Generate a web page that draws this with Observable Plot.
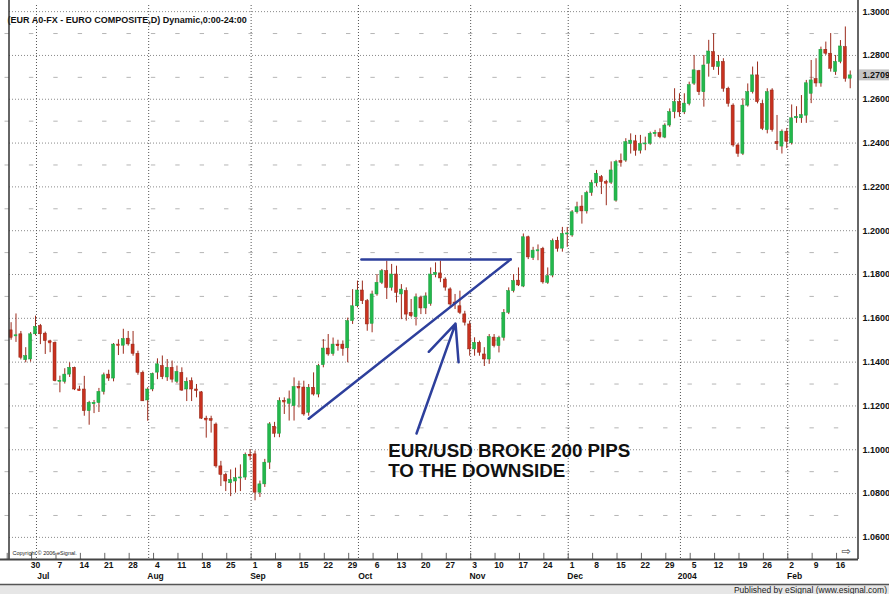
<!DOCTYPE html>
<html><head><meta charset="utf-8">
<script src="https://cdn.jsdelivr.net/npm/d3@7"></script>
<script src="https://cdn.jsdelivr.net/npm/@observablehq/plot@0.6"></script>
<style>body{margin:0;background:#fff} svg{display:block}</style>
</head><body><div id="chart"></div>
<script>
const startDate = "2003-06-23";
const titleText = "(EUR A0-FX - EURO COMPOSITE,D) Dynamic,0:00-24:00";
const opens = [1.1545,1.1520,1.1527,1.1409,1.1412,1.1527,1.1565,1.1530,1.1495,1.1488,
1.1311,1.1310,1.1343,1.1374,1.1275,1.1275,1.1176,1.1210,1.1213,1.1264,
1.1343,1.1325,1.1480,1.1475,1.1507,1.1480,1.1438,1.1351,1.1225,1.1275,
1.1352,1.1382,1.1330,1.1374,1.1310,1.1351,1.1275,1.1313,1.1275,1.1262,
1.1142,1.1140,1.1115,1.0924,1.0885,1.0847,1.0855,1.0870,1.0873,1.0977,
1.0979,1.0804,1.0842,1.0941,1.1105,1.1073,1.1222,1.1210,1.1199,1.1286,
1.1284,1.1169,1.1283,1.1252,1.1386,1.1462,1.1437,1.1480,1.1480,1.1463,
1.1587,1.1655,1.1727,1.1678,1.1575,1.1709,1.1762,1.1815,1.1739,1.1800,
1.1709,1.1724,1.1625,1.1605,1.1693,1.1645,1.1665,1.1797,1.1805,1.1777,
1.1732,1.1672,1.1655,1.1618,1.1572,1.1458,1.1488,1.1435,1.1412,1.1512,
1.1473,1.1511,1.1625,1.1724,1.1772,1.1745,1.1970,1.1875,1.1909,1.1917,
1.1762,1.1795,1.1954,1.1918,1.1985,1.1978,1.2084,1.2110,1.2088,1.2172,
1.2216,1.2244,1.2222,1.2219,1.2137,1.2318,1.2320,1.2395,1.2408,1.2365,
1.2395,1.2397,1.2442,1.2446,1.2425,1.2480,1.2541,1.2587,1.2540,1.2578,
1.2671,1.2728,1.2632,1.2762,1.2815,1.2747,1.2770,1.2648,1.2571,1.2389,
1.2351,1.2571,1.2632,1.2709,1.2578,1.2459,1.2640,1.2405,1.2384,1.2452,
1.2399,1.2513,1.2513,1.2525,1.2625,1.2692,1.2672,1.2826,1.2808,1.2724,
1.2770,1.2838,1.2694];
const highs = [1.1580,1.1620,1.1540,1.1466,1.1535,1.1610,1.1572,1.1537,1.1500,1.1492,
1.1336,1.1370,1.1397,1.1377,1.1290,1.1335,1.1221,1.1225,1.1280,1.1350,
1.1363,1.1485,1.1502,1.1550,1.1540,1.1540,1.1450,1.1359,1.1283,1.1350,
1.1415,1.1428,1.1412,1.1405,1.1382,1.1374,1.1328,1.1328,1.1298,1.1266,
1.1153,1.1153,1.1122,1.0947,1.0893,1.0908,1.0916,1.0931,1.0985,1.1000,
1.0994,1.0857,1.0956,1.1124,1.1125,1.1237,1.1237,1.1268,1.1328,1.1313,
1.1313,1.1298,1.1351,1.1390,1.1503,1.1526,1.1510,1.1500,1.1497,1.1601,
1.1731,1.1770,1.1770,1.1686,1.1724,1.1800,1.1823,1.1861,1.1846,1.1838,
1.1754,1.1739,1.1686,1.1711,1.1701,1.1716,1.1830,1.1853,1.1861,1.1785,
1.1739,1.1709,1.1724,1.1632,1.1587,1.1511,1.1496,1.1466,1.1526,1.1526,
1.1518,1.1640,1.1739,1.1800,1.1830,1.1985,1.1975,1.1924,1.1935,1.1924,
1.1830,1.1962,1.1970,1.2015,1.2015,1.2092,1.2130,1.2160,1.2180,1.2230,
1.2275,1.2252,1.2230,1.2314,1.2321,1.2350,1.2420,1.2442,1.2435,1.2435,
1.2427,1.2450,1.2458,1.2465,1.2488,1.2556,1.2648,1.2625,1.2625,1.2678,
1.2800,1.2732,1.2800,1.2869,1.2899,1.2800,1.2785,1.2655,1.2579,1.2397,
1.2602,1.2670,1.2747,1.2770,1.2594,1.2648,1.2648,1.2526,1.2460,1.2467,
1.2574,1.2566,1.2617,1.2686,1.2777,1.2785,1.2838,1.2861,1.2900,1.2800,
1.2868,1.2930,1.2729];
const lows = [1.1500,1.1490,1.1410,1.1397,1.1400,1.1520,1.1480,1.1435,1.1443,1.1310,
1.1260,1.1300,1.1330,1.1270,1.1268,1.1153,1.1112,1.1165,1.1170,1.1250,
1.1312,1.1310,1.1430,1.1436,1.1473,1.1427,1.1340,1.1221,1.1130,1.1265,
1.1320,1.1320,1.1312,1.1305,1.1302,1.1267,1.1220,1.1220,1.1237,1.1138,
1.1053,1.1076,1.0916,1.0832,1.0809,1.0786,1.0802,1.0809,1.0860,1.0950,
1.0767,1.0782,1.0828,1.0910,1.1055,1.1055,1.1161,1.1131,1.1131,1.1191,
1.1153,1.1153,1.1245,1.1237,1.1374,1.1427,1.1427,1.1450,1.1427,1.1397,
1.1572,1.1648,1.1663,1.1541,1.1534,1.1701,1.1754,1.1686,1.1724,1.1670,
1.1594,1.1587,1.1602,1.1565,1.1617,1.1617,1.1655,1.1785,1.1763,1.1724,
1.1655,1.1640,1.1617,1.1565,1.1427,1.1427,1.1427,1.1380,1.1390,1.1465,
1.1442,1.1496,1.1617,1.1716,1.1745,1.1740,1.1868,1.1864,1.1863,1.1756,
1.1755,1.1785,1.1902,1.1902,1.1924,1.1970,1.2076,1.2030,1.2076,1.2157,
1.2200,1.2165,1.2114,1.2211,1.2130,1.2290,1.2312,1.2350,1.2340,1.2350,
1.2365,1.2390,1.2427,1.2420,1.2420,1.2472,1.2511,1.2518,1.2530,1.2570,
1.2663,1.2617,1.2564,1.2701,1.2732,1.2709,1.2632,1.2564,1.2381,1.2335,
1.2343,1.2564,1.2624,1.2579,1.2457,1.2442,1.2450,1.2366,1.2350,1.2375,
1.2391,1.2490,1.2490,1.2490,1.2580,1.2655,1.2655,1.2800,1.2724,1.2709,
1.2762,1.2678,1.2648];
const closes = [1.1511,1.1522,1.1420,1.1427,1.1527,1.1560,1.1527,1.1496,1.1490,1.1313,
1.1315,1.1343,1.1374,1.1275,1.1272,1.1176,1.1214,1.1213,1.1264,1.1340,
1.1325,1.1480,1.1478,1.1505,1.1481,1.1438,1.1351,1.1221,1.1275,1.1346,
1.1390,1.1331,1.1374,1.1320,1.1355,1.1270,1.1310,1.1275,1.1268,1.1142,
1.1138,1.1132,1.0924,1.0885,1.0855,1.0862,1.0870,1.0873,1.0977,1.0974,
1.0804,1.0842,1.0941,1.1116,1.1073,1.1222,1.1220,1.1230,1.1286,1.1284,
1.1161,1.1283,1.1252,1.1382,1.1462,1.1435,1.1480,1.1477,1.1460,1.1587,
1.1655,1.1727,1.1678,1.1572,1.1709,1.1762,1.1815,1.1739,1.1800,1.1716,
1.1731,1.1617,1.1610,1.1696,1.1645,1.1700,1.1800,1.1808,1.1782,1.1740,
1.1663,1.1665,1.1625,1.1580,1.1458,1.1488,1.1443,1.1412,1.1514,1.1473,
1.1510,1.1625,1.1724,1.1770,1.1750,1.1970,1.1878,1.1909,1.1910,1.1764,
1.1792,1.1952,1.1917,1.1985,1.1987,1.2084,1.2107,1.2088,1.2172,1.2217,
1.2260,1.2222,1.2218,1.2275,1.2313,1.2310,1.2404,1.2411,1.2365,1.2395,
1.2398,1.2442,1.2446,1.2427,1.2480,1.2541,1.2587,1.2540,1.2580,1.2664,
1.2732,1.2632,1.2754,1.2818,1.2747,1.2770,1.2648,1.2579,1.2389,1.2351,
1.2571,1.2632,1.2709,1.2587,1.2465,1.2632,1.2459,1.2395,1.2452,1.2406,
1.2513,1.2520,1.2528,1.2673,1.2686,1.2672,1.2826,1.2808,1.2739,1.2770,
1.2841,1.2693,1.2709];
const dayLabels = ["30","7","14","21","28","4","11","18","25","1","8","15","22","29","6","13","20","27",
"3","10","17","24","1","8","15","22","29","5","12","19","26","2","9","16"];
const monthLabels = ["Jul","Aug","Sep","Oct","Nov","Dec","2004","Feb"];
const yTicks = [1.30,1.28,1.26,1.24,1.22,1.20,1.18,1.16,1.14,1.12,1.10,1.08,1.06];
const midLevels = [1.29,1.27,1.25,1.23,1.21,1.19,1.17,1.15,1.13,1.11,1.09,1.07,1.05];
const lastPrice = 1.2709;
const noteLines = ["EUR/USD BROKE 200 PIPS", "TO THE DOWNSIDE"];
const notePos = {i: 77.3, p: 1.0950};
const resistanceLine = [{i: 71.8, p: 1.1869}, {i: 102.4, p: 1.1869}];
const trendLine = [{i: 61.0, p: 1.1142}, {i: 102.4, p: 1.1869}];
const arrowPts = [{i1: 83.1, p1: 1.1074, i2: 91.1, p2: 1.1576}];
const copyrightText = "Copyright \u00a9 2006 eSignal.";
const publishedText = "Published by eSignal (www.esignal.com)";

// trading-day calendar (weekdays)
const dates = [];
{
  const d = new Date(startDate + "T12:00:00");
  while (dates.length < opens.length) {
    const wd = d.getDay();
    if (wd !== 0 && wd !== 6) dates.push(new Date(d));
    d.setDate(d.getDate() + 1);
  }
}
const bars = opens.map((o, i) => ({i, open: o, high: highs[i], low: lows[i], close: closes[i], up: closes[i] >= o}));
const mondayIdx = dates.map((d, i) => d.getDay() === 1 ? i : -1).filter(i => i >= 0);
const dayTicks = mondayIdx.slice(1).map((i, k) => ({i, label: dayLabels[k]})).filter(d => d.label);
const monthIdx = dates.map((d, i) => i > 0 && d.getMonth() !== dates[i - 1].getMonth() ? i : -1).filter(i => i >= 0);
const monthTicks = monthIdx.map((i, k) => ({i, label: monthLabels[k]}));
const gridOffset = -0.8;
const weekGrid = mondayIdx.map(i => i + gridOffset);
const dashes = weekGrid.flatMap(x => midLevels.map(p => ({x, p})));

const xDom = [-0.33, 173.7];
const yDom = [1.0499, 1.3028];
const GREEN = "#22b84c", RED = "#c8311f", WICK = "#9b2b1c";
const font = "'Liberation Sans', Arial, Helvetica, sans-serif";
const half = 0.31;

const chart = Plot.plot({
  width: 889, height: 594,
  marginTop: 5, marginRight: 31, marginBottom: 35, marginLeft: 9,
  x: {type: "linear", domain: xDom, axis: null},
  y: {domain: yDom, axis: null},
  style: {fontFamily: font, background: "white", overflow: "visible"},
  marks: [
    Plot.ruleY(yTicks.filter(p => p < yDom[1]), {y: d => d, stroke: "#8a8a8a", strokeDasharray: "1,2"}),
    Plot.ruleY(dashes, {y: "p", x1: d => d.x - 0.45, x2: d => d.x + 0.45, stroke: "#b5b5b5"}),
    Plot.ruleX(monthIdx.map(i => i + gridOffset), {x: d => d, stroke: "#555", strokeDasharray: "1,2"}),
    Plot.ruleX(weekGrid, {x: d => d, y1: yDom[0], y2: yDom[0] + 0.0028, stroke: "#666"}),
    // wicks
    Plot.ruleX(bars, {x: "i", y1: "low", y2: "high", stroke: WICK, strokeWidth: 1}),
    // bodies
    Plot.rect(bars.filter(d => d.up), {x1: d => d.i - half, x2: d => d.i + half, y1: "open", y2: "close", fill: GREEN, stroke: "#1a9a3c", strokeWidth: 0.5}),
    Plot.rect(bars.filter(d => !d.up), {x1: d => d.i - half, x2: d => d.i + half, y1: "open", y2: "close", fill: RED, stroke: "#8e2414", strokeWidth: 0.5}),
    Plot.ruleY(bars.filter(d => Math.abs(d.open - d.close) < 0.0006), {y: "close", x1: d => d.i - half, x2: d => d.i + half, stroke: d => d.up ? GREEN : RED, strokeWidth: 1.5}),
    // annotations
    Plot.line(resistanceLine, {x: "i", y: "p", stroke: "#2d3f9c", strokeWidth: 2.5}),
    Plot.line(trendLine, {x: "i", y: "p", stroke: "#2d3f9c", strokeWidth: 2.5}),
    Plot.arrow(arrowPts, {x1: "i1", y1: "p1", x2: "i2", y2: "p2", stroke: "#2d3f9c", strokeWidth: 2.5, headLength: 24, headAngle: 48}),
    Plot.text([noteLines.join("\n")], {x: () => notePos.i, y: () => notePos.p, text: d => d, textAnchor: "start", lineAnchor: "middle", lineHeight: 1.08, fontSize: 18.8, fontWeight: "bold", fill: "#111"}),
    // y labels
    Plot.text(yTicks, {y: d => d, frameAnchor: "right", dx: 4, textAnchor: "start", text: d => d.toFixed(4), fontWeight: "bold", fontSize: 9, fill: "#111"}),
    Plot.text([lastPrice], {y: d => d, frameAnchor: "right", dx: 4, textAnchor: "start", text: d => d.toFixed(4), fontWeight: "bold", fontSize: 9, fill: "#111"}),
    // x labels
    Plot.text(dayTicks, {x: "i", text: "label", frameAnchor: "bottom", dy: 8, fontWeight: "bold", fontSize: 8.5, fill: "#111"}),
    Plot.text(monthTicks, {x: d => d.i + 0.6, text: "label", frameAnchor: "bottom", dy: 19, fontWeight: "bold", fontSize: 8.5, fill: "#111"}),
    // title & copyright
    Plot.text([titleText], {frameAnchor: "top-left", dx: -2, dy: 11, textAnchor: "start", text: d => d, fontWeight: "bold", fontSize: 9, fill: "#111"}),
    Plot.text([copyrightText], {frameAnchor: "bottom-left", dx: 3, dy: -5, textAnchor: "start", text: d => d, fontSize: 5.5, fill: "#222"})
  ]
});
document.getElementById("chart").appendChild(chart);

// chrome: price box, borders, footer band
const svg = d3.select(chart);
const ys = chart.scale("y");
const yLast = ys.apply(lastPrice);
svg.insert("rect", ":first-child").attr("x", 859).attr("y", yLast - 5.5).attr("width", 30).attr("height", 11).attr("fill", "#c4c4c4");
svg.insert("rect", ":first-child").attr("x", 0).attr("y", 585).attr("width", 889).attr("height", 9).attr("fill", "#e6e6e6");
const line = (x1, y1, x2, y2, w, c) => svg.append("line").attr("x1", x1).attr("y1", y1).attr("x2", x2).attr("y2", y2).attr("stroke", c).attr("stroke-width", w);
line(9, 0, 9, 559, 1.5, "#333");
line(858, 0, 858, 559, 1.5, "#333");
line(0, 559.5, 858, 559.5, 2, "#444");
line(0, 584.5, 889, 584.5, 1.5, "#555");
svg.append("text").attr("x", 887).attr("y", 592.5).attr("text-anchor", "end").attr("font-size", 8.5).attr("font-family", font).attr("fill", "#222").text(publishedText);
svg.append("text").attr("x", 846).attr("y", 555).attr("font-size", 11).attr("font-family", "DejaVu Sans").attr("fill", "#333").text("\u21e8");
</script>
</body></html>
